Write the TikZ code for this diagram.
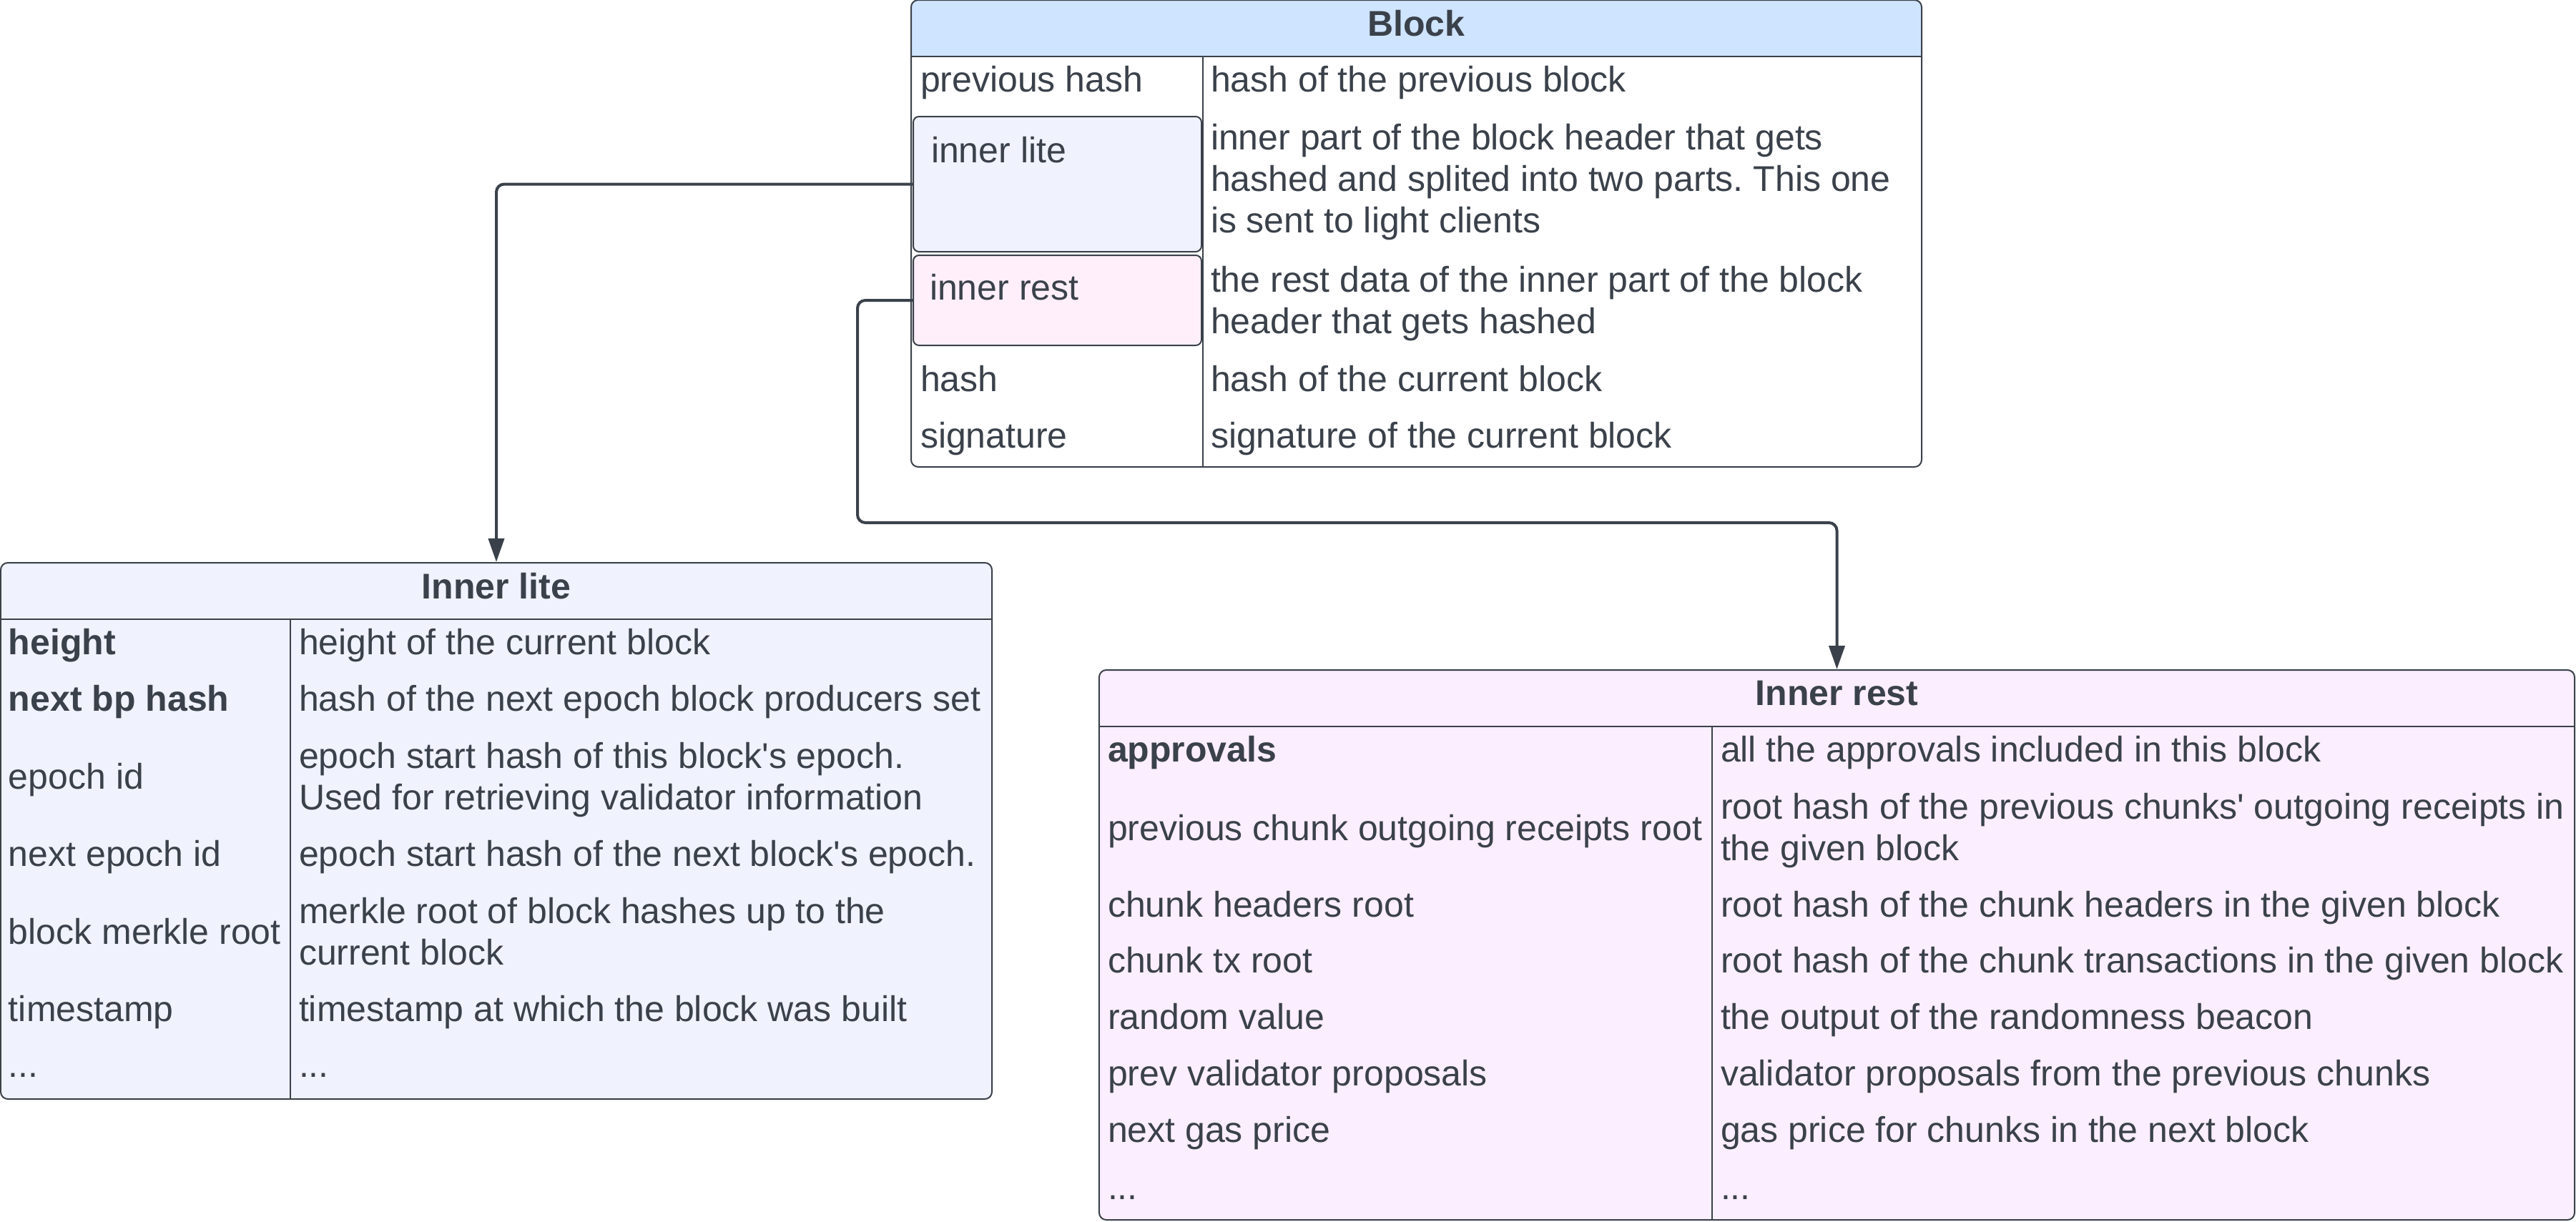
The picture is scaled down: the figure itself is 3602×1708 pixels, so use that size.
\documentclass[tikz,border=0pt]{standalone}
\usepackage{fontspec}
\setmainfont{Liberation Sans}
\usetikzlibrary{arrows.meta}

\definecolor{ink}{RGB}{58,65,74}
\definecolor{blockblue}{RGB}{207,228,255}
\definecolor{litefill}{RGB}{240,242,254}
\definecolor{restfill}{RGB}{251,238,255}
\definecolor{restbox}{RGB}{255,239,250}

\tikzset{
  tablebox/.style={draw=ink, line width=0.4pt, rounded corners=2pt, inner sep=0pt},
  fieldbox/.style={draw=ink, line width=0.4pt, rounded corners=1.6pt, inner sep=0pt},
  cell/.style={anchor=base west, inner sep=0pt, text=ink},
  tabletitle/.style={inner sep=0pt, text=ink},
  rule/.style={draw=ink, line width=0.5pt},
  colrule/.style={draw=ink, line width=0.3pt},
  link/.style={draw=ink, line width=0.8pt, rounded corners=2.2pt, -{Triangle[length=6.6pt,width=4.4pt]}},
}

\begin{document}
\frenchspacing
\begin{tikzpicture}[x=0.2pt,y=-0.2pt,font=\fontsize{10}{11.6}\selectfont]
\useasboundingbox (0,0) rectangle (3602,1708);

% block table
\node[tablebox, draw=none, fill=white, minimum width=282.2pt, minimum height=130.2pt] (blk) at (1980.5,326.5) {};
\begin{scope}
\clip[rounded corners=2pt] (blk.north west) rectangle (blk.south east);
\fill[blockblue] (1275,0) rectangle (2686,79);
\end{scope}
\draw[tablebox] (blk.north west) rectangle (blk.south east);
\draw[rule] (1275,79) -- (2686,79);
\draw[colrule] (1682,79) -- (1682,652);
\node[tabletitle] (blkt) at (1980.5,33) {\textbf{Block}};
\node[fieldbox, fill=litefill, minimum width=80.6pt, minimum height=37.8pt] (ilbox) at (1478.5,257.5) {};
\node[fieldbox, fill=restbox, minimum width=80.6pt, minimum height=25.2pt] (irbox) at (1478.5,420) {};
\node[cell] (prevhash) at (1286,128) {previous hash};
\node[cell] (prevhashd) at (1692,128) {hash of the previous block};
\node[cell] (ilname) at (1301,227) {inner lite};
\node[cell, align=left] (ilnamed) at (1692,325) {inner part of the block header that gets\\hashed and splited into two parts. This one\\is sent to light clients};
\node[cell] (irname) at (1299,419) {inner rest};
\node[cell, align=left] (irnamed) at (1692,466) {the rest data of the inner part of the block\\header that gets hashed};
\node[cell] (hash) at (1286,547) {hash};
\node[cell] (hashd) at (1692,547) {hash of the current block};
\node[cell] (sig) at (1286,626) {signature};
\node[cell] (sigd) at (1692,626) {signature of the current block};

% inner lite table
\node[tablebox, fill=litefill, minimum width=277.2pt, minimum height=150pt] (lite) at (694,1162) {};
\draw[rule] (1,866) -- (1387,866);
\draw[colrule] (406,866) -- (406,1537);
\node[tabletitle] (litet) at (694,820) {\textbf{Inner lite}};
\node[cell] (height) at (11,915) {\textbf{height}};
\node[cell] (heightd) at (417,915) {height of the current block};
\node[cell] (bphash) at (11,994) {\textbf{next bp hash}};
\node[cell] (bphashd) at (417,994) {hash of the next epoch block producers set};
\node[cell] (epoch) at (11,1103) {epoch id};
\node[cell, align=left] (epochd) at (417,1132) {epoch start hash of this block\textquotesingle s epoch.\\Used for retrieving validator information};
\node[cell] (nextepoch) at (11,1211) {next epoch id};
\node[cell] (nextepochd) at (417,1211) {epoch start hash of the next block\textquotesingle s epoch.};
\node[cell] (merkle) at (11,1320) {block merkle root};
\node[cell, align=left] (merkled) at (417,1349) {merkle root of block hashes up to the\\current block};
\node[cell] (stamp) at (11,1428) {timestamp};
\node[cell] (stampd) at (417,1428) {timestamp at which the block was built};
\node[cell] (litedots) at (11,1506) {...};
\node[cell] (litedotsd) at (417,1506) {...};

% inner rest table
\node[tablebox, fill=restfill, minimum width=412.6pt, minimum height=153.8pt] (rest) at (2568.5,1321.5) {};
\draw[rule] (1537,1016) -- (3600,1016);
\draw[colrule] (2394,1016) -- (2394,1706);
\node[tabletitle] (restt) at (2568.5,970) {\textbf{Inner rest}};
\node[cell] (approvals) at (1548,1065) {\textbf{approvals}};
\node[cell] (approvalsd) at (2405,1065) {all the approvals included in this block};
\node[cell] (receipts) at (1548,1175) {previous chunk outgoing receipts root};
\node[cell, align=left] (receiptsd) at (2405,1203) {root hash of the previous chunks\textquotesingle{} outgoing receipts in\\the given block};
\node[cell] (headers) at (1548,1282) {chunk headers root};
\node[cell] (headersd) at (2405,1282) {root hash of the chunk headers in the given block};
\node[cell] (txroot) at (1548,1360) {chunk tx root};
\node[cell] (txrootd) at (2405,1360) {root hash of the chunk transactions in the given block};
\node[cell] (random) at (1548,1439) {random value};
\node[cell] (randomd) at (2405,1439) {the output of the randomness beacon};
\node[cell] (proposals) at (1548,1518) {prev validator proposals};
\node[cell] (proposalsd) at (2405,1518) {validator proposals from the previous chunks};
\node[cell] (gas) at (1548,1597) {next gas price};
\node[cell] (gasd) at (2405,1597) {gas price for chunks in the next block};
\node[cell] (restdots) at (1548,1677) {...};
\node[cell] (restdotsd) at (2405,1677) {...};

% connectors
\coordinate (restbend) at (1199,731);
\draw[link] (ilbox.west) -| (lite.north);
\draw[link] (irbox.west) -| (restbend) -| (rest.north);
\end{tikzpicture}
\end{document}
